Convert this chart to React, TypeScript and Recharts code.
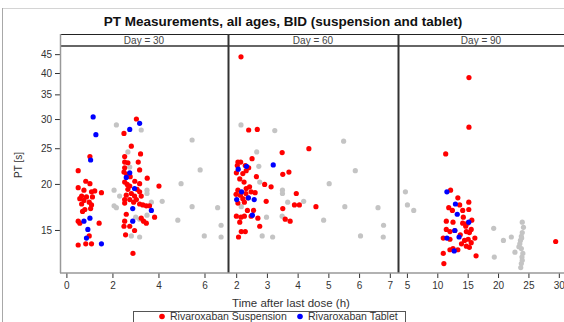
import { Scatter, ScatterChart, XAxis, YAxis } from 'recharts'

// PT [s] vs time after last dose, three visit panels
// grey = reference points, red = suspension, blue = tablet

const yTicks = [15, 20, 25, 30, 35, 40, 45]
const yDomain = [11.5, 47.5]

const panelTitles = ['Day = 30', 'Day = 60', 'Day = 90']
const xTicks30 = [0, 2, 4, 6]
const xTicks60 = [2, 3, 4, 5, 6, 7]
const xTicks90 = [5, 10, 15, 20, 25, 30]

const ref30 = [
  [2.15, 29.0], [3.23, 28.1], [5.44, 26.4], [2.65, 24.5], [2.73, 22.3], [5.79, 21.9],
  [4.96, 20.1], [2.05, 19.3], [2.29, 18.6], [2.05, 17.5], [2.15, 17.3], [3.48, 19.3],
  [3.48, 18.9], [4.14, 18.0], [3.67, 17.9], [3.48, 16.5], [4.82, 16.0], [5.44, 17.4],
  [6.55, 17.3], [6.7, 15.5], [5.97, 14.5], [6.7, 14.4], [2.8, 14.5], [3.16, 14.4],
  [2.99, 16.3], [3.16, 16.1],
]
const susp30 = [
  [1.0, 23.8], [0.49, 21.8], [0.82, 20.4], [1.0, 20.1], [0.49, 19.6], [0.74, 19.3],
  [1.07, 19.1], [1.21, 19.2], [1.5, 19.0], [0.64, 18.6], [0.56, 18.3], [0.85, 18.5],
  [1.11, 18.5], [0.74, 18.1], [0.97, 17.9], [1.07, 17.6], [0.64, 17.7], [0.78, 17.1],
  [0.68, 16.9], [1.03, 17.2], [0.49, 15.9], [0.56, 15.7], [1.4, 15.7], [0.97, 14.5],
  [0.49, 13.7], [0.82, 13.8], [1.07, 13.8],
  [3.02, 30.1], [2.48, 27.5], [2.8, 25.4], [3.2, 24.2], [2.51, 23.8], [3.1, 23.0],
  [2.51, 23.0], [2.65, 22.9], [2.51, 22.2], [3.16, 21.9], [2.48, 21.6], [2.6, 21.3],
  [2.75, 21.0], [3.49, 20.8], [2.51, 20.3], [3.16, 20.1], [2.73, 19.8], [4.0, 19.8],
  [2.65, 19.4], [3.16, 19.1], [2.8, 18.9], [2.58, 18.7], [2.94, 18.6], [3.23, 18.6],
  [2.73, 18.2], [3.02, 18.2], [2.51, 18.2], [3.16, 17.7], [2.51, 17.8], [3.3, 17.6],
  [3.45, 17.5], [3.59, 17.5], [2.9, 17.9], [2.58, 16.6], [3.81, 16.3], [3.23, 16.2],
  [3.33, 15.9], [3.45, 15.7], [2.51, 15.9], [2.48, 15.4], [2.73, 15.4], [2.94, 15.0],
  [2.55, 14.6], [2.87, 13.0], [2.95, 20.4], [2.62, 20.0], [3.05, 19.4],
]
const tab30 = [
  [1.14, 30.5], [1.26, 27.3], [1.03, 23.3], [2.73, 28.2], [3.16, 29.3], [2.73, 21.5],
  [2.58, 20.9], [2.94, 19.5], [2.86, 17.2], [2.86, 15.9], [3.67, 17.0], [1.0, 16.2],
  [0.74, 15.9], [0.91, 15.1], [0.85, 14.3], [1.5, 13.8],
]

const ref60 = [
  [2.14, 29.0], [3.24, 28.0], [5.48, 26.2], [2.65, 24.5], [2.72, 22.4], [5.86, 21.8],
  [5.01, 20.1], [2.75, 20.3], [3.49, 19.3], [3.49, 18.9], [4.18, 18.0], [3.66, 17.9],
  [5.52, 17.4], [6.6, 17.3], [2.15, 17.4], [2.97, 16.3], [3.48, 16.4], [4.83, 16.0],
  [6.78, 15.5], [2.83, 14.5], [3.17, 14.4], [6.03, 14.5], [6.77, 14.4],
]
const susp60 = [
  [2.14, 44.4], [2.39, 28.1], [2.67, 28.2], [4.35, 25.0], [3.48, 24.4], [2.5, 23.5],
  [2.04, 23.0], [2.13, 23.0], [2.02, 22.5], [2.28, 22.5], [2.39, 22.2], [1.99, 21.5],
  [2.2, 21.4], [2.31, 21.8], [3.5, 21.3], [3.7, 21.6], [2.1, 20.7], [2.24, 20.3],
  [2.64, 21.0], [2.91, 20.0], [3.12, 19.7], [2.42, 19.7], [2.04, 19.3], [2.31, 19.5],
  [2.47, 19.1], [1.98, 18.8], [2.12, 18.7], [2.3, 18.9], [3.94, 18.9], [2.2, 18.3],
  [2.37, 18.4], [2.96, 18.0], [2.04, 17.8], [2.25, 17.9], [3.5, 17.2], [3.88, 17.6],
  [4.04, 17.6], [4.58, 17.4], [1.99, 16.4], [2.14, 16.3], [2.25, 16.4], [2.47, 16.4],
  [2.69, 16.2], [3.58, 16.1], [3.74, 15.9], [2.1, 15.8], [2.75, 15.4], [2.15, 14.9],
  [2.28, 14.9], [2.06, 14.4], [2.6, 19.0], [2.55, 17.0], [2.35, 17.0],
]
const tab60 = [
  [2.05, 22.0], [2.32, 22.4], [3.19, 22.6], [2.16, 19.1], [2.0, 18.2], [2.38, 18.4],
  [2.57, 18.2], [2.51, 16.5],
]

const ref90 = [
  [4.67, 19.1], [5.0, 17.6], [6.04, 17.0], [19.2, 15.2], [20.8, 14.1], [22.1, 14.4],
  [19.3, 12.7], [22.7, 13.1], [23.9, 15.8], [23.9, 14.8], [23.75, 14.45], [23.6, 14.1],
  [23.5, 13.8], [23.35, 13.55], [23.75, 13.4], [24.0, 13.0], [23.85, 12.7], [23.9, 12.45],
  [23.75, 12.2], [23.65, 11.9], [24.1, 15.3], [23.8, 14.3],
]
const susp90 = [
  [15.13, 39.0], [15.13, 28.6], [11.3, 24.2], [12.1, 19.3], [13.3, 18.4], [13.6, 17.6],
  [15.1, 17.9], [11.8, 17.3], [12.4, 17.0], [14.1, 17.0], [15.1, 17.1], [11.4, 15.9],
  [12.5, 15.8], [14.1, 15.7], [14.6, 15.4], [11.4, 15.1], [12.0, 14.9], [12.8, 15.0],
  [14.7, 14.9], [15.2, 14.8], [15.5, 15.1], [13.7, 14.6], [10.9, 14.3], [12.0, 14.2],
  [14.4, 14.1], [15.0, 14.2], [15.5, 13.9], [16.1, 14.3], [12.0, 13.3], [12.5, 13.4],
  [13.3, 13.3], [14.7, 13.6], [15.2, 13.5], [16.3, 12.8], [10.9, 13.0], [11.0, 12.2],
  [29.4, 14.0], [14.2, 16.3], [15.6, 16.0], [13.9, 13.8], [14.9, 15.7],
]
const tab90 = [
  [11.5, 19.1], [12.9, 17.7], [13.2, 16.6], [15.1, 15.8], [12.8, 15.0], [13.5, 14.4],
  [11.5, 14.3], [12.7, 13.2],
]

const RED = '#ff0000'
const BLUE = '#0000ff'
const GREY = '#c4c4c4'
const INK = '#333333'
const FONT = '"Liberation Sans", Arial, sans-serif'

const toPts = (arr: number[][]) => arr.map(([x, y]) => ({ x, y }))

function Dot(p: any) {
  if (p.cx == null || p.cy == null) return null
  return <circle cx={p.cx} cy={p.cy} r={2.6} fill={p.fill} />
}

function Panel(props: {
  left: number
  width: number
  xDomain: number[]
  xTicks: number[]
  showY: boolean
  ref_: number[][]
  susp: number[][]
  tab: number[][]
}) {
  return (
    <div style={{ position: 'absolute', left: props.left, top: 0 }}>
      <ScatterChart
        width={props.width}
        height={322}
        margin={{ top: 46, right: 0, bottom: 29, left: 0 }}
      >
        <XAxis
          type="number"
          dataKey="x"
          domain={props.xDomain}
          ticks={props.xTicks}
          allowDataOverflow
          axisLine={false}
          tickLine={{ stroke: INK }}
          tickSize={5}
          tickMargin={4}
          height={20}
          interval={0}
          tick={{ fontSize: 10, fill: INK, fontFamily: FONT }}
        />
        <YAxis
          type="number"
          dataKey="y"
          scale="log"
          domain={yDomain}
          ticks={yTicks}
          allowDataOverflow
          hide={!props.showY}
          width={60}
          axisLine={false}
          tickLine={{ stroke: INK }}
          tickSize={5}
          tickMargin={3}
          interval={0}
          tick={{ fontSize: 10, fill: INK, fontFamily: FONT }}
        />
        <Scatter data={toPts(props.ref_)} fill={GREY} shape={Dot} isAnimationActive={false} />
        <Scatter data={toPts(props.susp)} fill={RED} shape={Dot} isAnimationActive={false} />
        <Scatter data={toPts(props.tab)} fill={BLUE} shape={Dot} isAnimationActive={false} />
      </ScatterChart>
    </div>
  )
}

export default function App() {
  return (
    <div
      style={{
        position: 'absolute',
        left: 0,
        top: 0,
        width: 564,
        height: 322,
        overflow: 'hidden',
        background: '#fff',
        fontFamily: FONT,
      }}
    >
      <Panel left={0} width={228} xDomain={[-0.3, 7.0]} xTicks={xTicks30} showY ref_={ref30} susp={susp30} tab={tab30} />
      <Panel left={229} width={169} xDomain={[1.75, 7.25]} xTicks={xTicks60} showY={false} ref_={ref60} susp={susp60} tab={tab60} />
      <Panel left={398} width={168} xDomain={[3.45, 31.1]} xTicks={xTicks90} showY={false} ref_={ref90} susp={susp90} tab={tab90} />

      <svg width={564} height={322} style={{ position: 'absolute', left: 0, top: 0, pointerEvents: 'none' }}>
        {/* outer frame */}
        <line x1={2} y1={8.5} x2={564} y2={8.5} stroke="#d4d4d4" />
        <line x1={2.5} y1={8} x2={2.5} y2={322} stroke="#a8a8a8" />

        <text x={283} y={25.5} textAnchor="middle" fontSize={13.5} fontWeight={700} fill="#111">
          PT Measurements, all ages, BID (suspension and tablet)
        </text>

        {/* panel headers and borders */}
        <line x1={60} y1={34.5} x2={564} y2={34.5} stroke="#222" />
        <line x1={60} y1={46} x2={564} y2={46} stroke="#333" strokeWidth={1.5} />
        <line x1={60.5} y1={34} x2={60.5} y2={273} stroke="#999" strokeWidth={1.5} />
        <line x1={228.5} y1={34} x2={228.5} y2={273} stroke="#333" strokeWidth={2} />
        <line x1={398.5} y1={34} x2={398.5} y2={273} stroke="#333" strokeWidth={2} />
        <line x1={60} y1={273} x2={564} y2={273} stroke="#999" strokeWidth={1.5} />
        {panelTitles.map((t, i) => (
          <text
            key={t}
            x={[144, 313, 481][i]}
            y={43.5}
            textAnchor="middle"
            fontSize={10}
            fill="#444"
          >
            {t}
          </text>
        ))}

        <text x={22} y={165} textAnchor="middle" fontSize={10} fill={INK} transform="rotate(-90 22 165)">
          PT [s]
        </text>
        <text x={291} y={307} textAnchor="middle" fontSize={11.5} fill={INK}>
          Time after last dose (h)
        </text>

        {/* legend */}
        <rect x={133.5} y={311.5} width={272} height={14} fill="none" stroke="#555" />
        <circle cx={162} cy={316.5} r={2.8} fill={RED} />
        <text x={170} y={320} fontSize={10.5} fill={INK}>
          Rivaroxaban Suspension
        </text>
        <circle cx={300} cy={316.5} r={2.8} fill={BLUE} />
        <text x={308} y={320} fontSize={10.5} fill={INK}>
          Rivaroxaban Tablet
        </text>
      </svg>
    </div>
  )
}
